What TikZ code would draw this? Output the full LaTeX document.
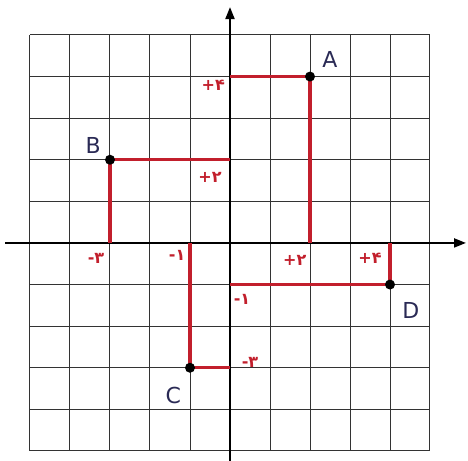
\documentclass[tikz,border=0pt]{standalone}
\usepackage{fontspec}
\setmainfont{DejaVu Sans}
\usetikzlibrary{arrows.meta}
\definecolor{penred}{HTML}{C21F2C}
\definecolor{penblue}{HTML}{2A2A55}
\tikzset{
  gridline/.style={black!80, line width=1pt},
  axisline/.style={black, line width=2pt, -{Triangle[length=12pt,width=9pt]}},
  redline/.style={penred, line width=3.4pt},
  dot/.style={circle, fill=black, inner sep=0pt, minimum size=10pt},
  tick/.style={text=penred, font=\bfseries\fontsize{16}{16}\selectfont, inner sep=0pt},
  letter/.style={text=penblue, font=\fontsize{22}{22}\selectfont, inner sep=0pt},
}
\begin{document}
\begin{tikzpicture}[x=40pt,y=41.6pt]
\useasboundingbox (-5.75,5.84) rectangle (5.95,-5.24);
% grid
\draw[gridline] (-5,-5) grid[step=1] (5,5);
% axes
\coordinate (xs) at (-5.62,0);
\coordinate (xe) at (5.9,0);
\coordinate (ys) at (0,-5.24);
\coordinate (ye) at (0,5.67);
\draw[axisline] (xs) -- (xe);
\draw[axisline] (ys) -- (ye);
% points
\coordinate (A) at (2,4);  \coordinate (Ay) at (0,4);  \coordinate (Ax) at (2,0);
\coordinate (B) at (-3,2); \coordinate (By) at (0,2);  \coordinate (Bx) at (-3,0);
\coordinate (C) at (-1,-3);\coordinate (Cy) at (0,-3); \coordinate (Cx) at (-1,0);
\coordinate (D) at (4,-1); \coordinate (Dy) at (0,-1); \coordinate (Dx) at (4,0);
\draw[redline] (Ay) -- (A) -- (Ax);
\draw[redline] (Bx) -- (B) -- (By);
\draw[redline] (Cx) -- (C) -- (Cy);
\draw[redline] (Dy) -- (D) -- (Dx);
\node[dot] (dA) at (A) {};
\node[dot] (dB) at (B) {};
\node[dot] (dC) at (C) {};
\node[dot] (dD) at (D) {};
% letters
\node[letter] (lA) at (2.5,4.4) {A};
\node[letter] (lB) at (-3.42,2.35) {B};
\node[letter] (lC) at (-1.42,-3.67) {C};
\node[letter] (lD) at (4.52,-1.63) {D};
% tick labels
\node[tick] (tAy) at (-0.42,3.78) {+۴};
\node[tick] (tBy) at (-0.5,1.58) {+۲};
\node[tick] (tAx) at (1.62,-0.43) {+۲};
\node[tick] (tDx) at (3.5,-0.38) {+۴};
\node[tick] (tBx) at (-3.35,-0.36) {-۳};
\node[tick] (tCx) at (-1.32,-0.31) {-۱};
\node[tick] (tDy) at (0.3,-1.35) {-۱};
\node[tick] (tCy) at (0.5,-2.86) {-۳};
\end{tikzpicture}
\end{document}
